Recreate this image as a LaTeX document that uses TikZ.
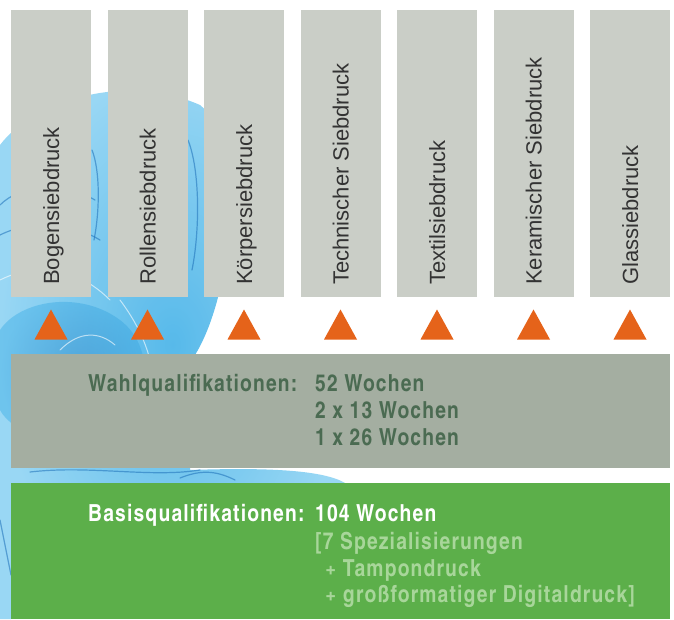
\documentclass[tikz,border=0pt]{standalone}
\usepackage{fontspec}
\setmainfont{Liberation Sans}
\newfontfamily\labelfont{Liberation Sans}
\newfontfamily\boldfont[LetterSpace=5]{texgyreheroscn-bold.otf}
\definecolor{barfill}{HTML}{CACEC7}
\definecolor{bartext}{HTML}{333333}
\definecolor{arrowor}{HTML}{E5631A}
\definecolor{wahlfill}{HTML}{A4AEA1}
\definecolor{wahltext}{HTML}{4B6B52}
\definecolor{basisfill}{HTML}{5CAF4A}
\definecolor{basislight}{HTML}{A8D69A}
\definecolor{splashlight}{HTML}{8ED3F3}
\definecolor{splashmid}{HTML}{45B2E8}
\definecolor{splashdark}{HTML}{1C6FB8}
\tikzset{
  barbox/.style={fill=barfill, draw=none},
  barlabel/.style={rotate=90, anchor=base west, inner sep=0pt,
    font=\labelfont\fontsize{22}{26}\selectfont, text=bartext},
  marker/.style={fill=arrowor, draw=none},
  bandtext/.style={anchor=base west, inner sep=0pt,
    font=\boldfont\fontsize{23.5}{27}\selectfont},
  streak/.style={draw=splashdark, line width=1.2pt, opacity=0.55, line cap=round},
  whitestreak/.style={draw=white, line width=1pt, opacity=0.6, line cap=round}
}
\begin{document}
\begin{tikzpicture}[x=1pt, y=-1pt]
\useasboundingbox (0,0) rectangle (674,619);
\fill[white] (0,0) rectangle (674,619);

% watercolour splash behind the columns
\shade[inner color=splashmid, outer color=splashlight, opacity=0.9]
  (0,145) .. controls (30,105) and (120,70) .. (200,105)
  .. controls (245,140) and (235,290) .. (195,355)
  -- (190,470) .. controls (250,468) and (320,468) .. (345,483)
  -- (11,483) -- (11,619) -- (0,619) -- cycle;
\shade[inner color=splashdark!70!splashmid, outer color=splashmid, opacity=0.5]
  (0,330) .. controls (20,300) and (80,290) .. (120,320)
  .. controls (160,350) and (150,420) .. (100,440)
  .. controls (60,455) and (10,430) .. (0,410) -- cycle;
\draw[streak] (0,205) .. controls (20,185) and (60,180) .. (95,200);
\draw[streak] (0,235) .. controls (30,220) and (70,222) .. (100,240);
\draw[streak] (188,140) .. controls (200,170) and (200,230) .. (192,270);
\draw[streak] (92,150) .. controls (100,170) and (100,210) .. (94,240);
\draw[streak] (30,472) .. controls (90,465) and (150,478) .. (200,470);
\draw[streak] (180,478) .. controls (200,470) and (215,470) .. (235,480);
\draw[streak] (0,520) .. controls (4,540) and (8,560) .. (11,575);
\draw[whitestreak] (0,280) .. controls (40,260) and (80,270) .. (110,300);
\draw[whitestreak] (120,300) .. controls (150,340) and (160,380) .. (150,420);
\draw[whitestreak] (60,350) .. controls (80,330) and (100,332) .. (115,345);

% specialisation columns with markers
\foreach \name/\lbl [count=\i from 0] in {
    bogen/Bogensiebdruck,
    rollen/Rollensiebdruck,
    koerper/Körpersiebdruck,
    technisch/Technischer Siebdruck,
    textil/Textilsiebdruck,
    keramik/Keramischer Siebdruck,
    glas/Glassiebdruck} {
  \pgfmathsetmacro{\xl}{11+96.5*\i}
  \pgfmathsetmacro{\xc}{\xl+40}
  \node[barbox, minimum width=80pt, minimum height=287pt, inner sep=0pt,
        anchor=north west] (\name) at (\xl,10) {};
  \node[barlabel] (\name-text) at (\xc+8,285) {\lbl};
  \coordinate (\name-tip) at (\xc,309.5);
  \fill[marker] (\name-tip) -- ++(-16.5,30) -- ++(33,0) -- cycle;
}

% elective qualifications band
\node[fill=wahlfill, minimum width=659pt, minimum height=113.5pt, inner sep=0pt,
      anchor=north west] (wahl) at (11,354) {};
\node[bandtext, text=wahltext] (wahl-title) at (88,391.5) {Wahlqualifikationen:};
\node[bandtext, text=wahltext] (wahl-a) at (315,391.5) {52 Wochen};
\node[bandtext, text=wahltext] (wahl-b) at (315,418.5) {2 x 13 Wochen};
\node[bandtext, text=wahltext] (wahl-c) at (315,445.5) {1 x 26 Wochen};

% basic qualifications band
\node[fill=basisfill, minimum width=659pt, minimum height=136pt, inner sep=0pt,
      anchor=north west] (basis) at (11,483) {};
\node[bandtext, text=white] (basis-title) at (88,521.5) {Basisqualifikationen:};
\node[bandtext, text=white] (basis-a) at (315,521.5) {104 Wochen};
\node[bandtext, text=basislight] (basis-b) at (315,549) {[7 Spezialisierungen};
\node[bandtext, text=basislight] (basis-c) at (325,576) {+ Tampondruck};
\node[bandtext, text=basislight] (basis-d) at (325,602.5) {+ großformatiger Digitaldruck]};
\end{tikzpicture}
\end{document}
